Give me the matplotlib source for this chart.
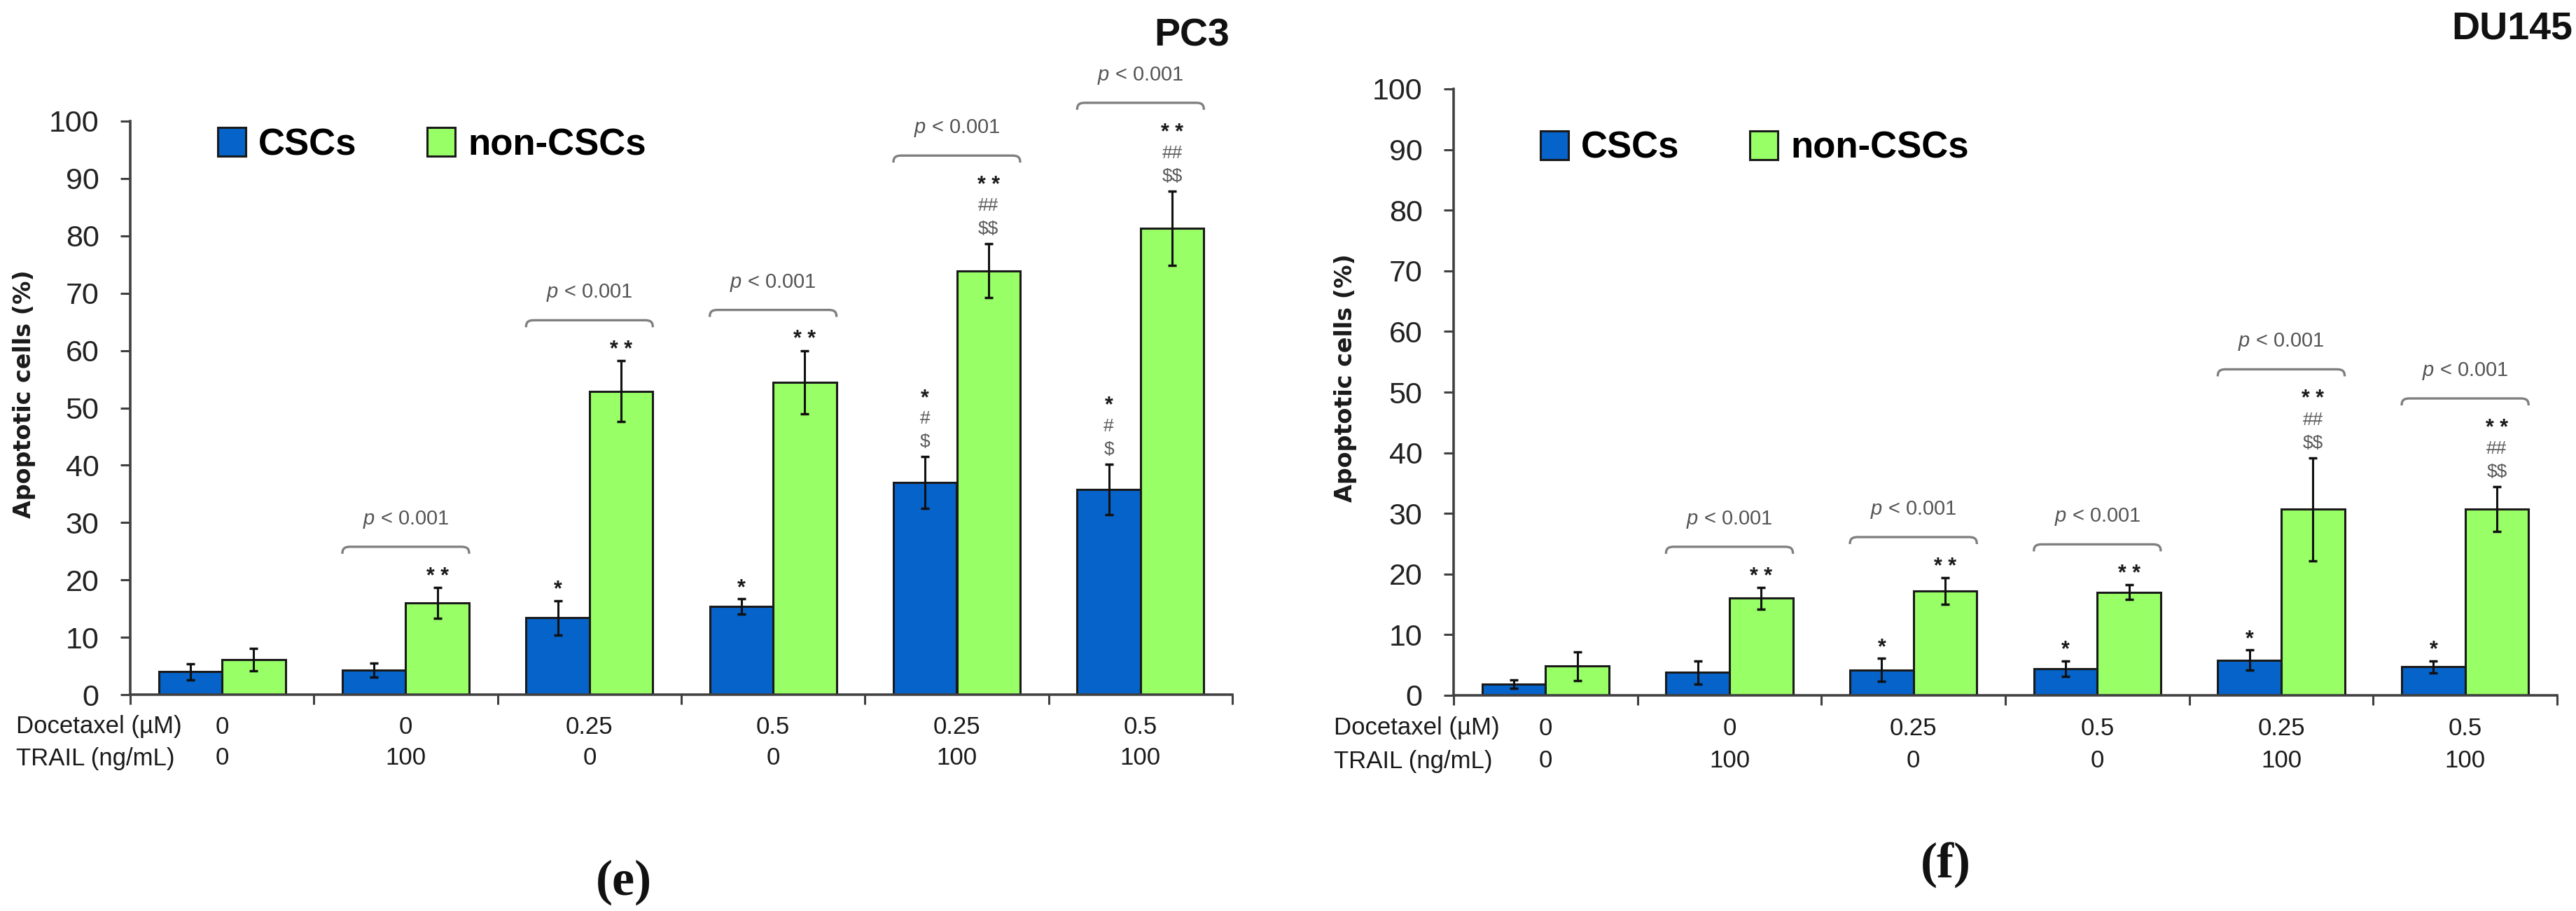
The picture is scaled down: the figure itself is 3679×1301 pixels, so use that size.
import matplotlib
matplotlib.use('Agg')
import matplotlib.pyplot as plt
from matplotlib.path import Path
from matplotlib.patches import PathPatch
import numpy as np

plt.rcParams['font.family'] = ['Liberation Sans', 'DejaVu Sans']
plt.rcParams['mathtext.fontset'] = 'custom'
plt.rcParams['mathtext.rm'] = 'Liberation Sans'
plt.rcParams['mathtext.it'] = 'Liberation Sans:italic'

W, H = 3679, 1301

# ---------------- data ----------------
docetaxel = ['0', '0', '0.25', '0.5', '0.25', '0.5']
trail = ['0', '100', '0', '0', '100', '100']
series_names = ['CSCs', 'non-CSCs']

pc3_csc = [4.0, 4.3, 13.4, 15.4, 37.0, 35.8]
pc3_csc_err = [1.4, 1.2, 3.0, 1.3, 4.5, 4.4]
pc3_non = [6.1, 16.0, 52.9, 54.5, 73.9, 81.3]
pc3_non_err = [2.0, 2.7, 5.3, 5.5, 4.7, 6.5]

du_csc = [1.8, 3.8, 4.2, 4.4, 5.8, 4.7]
du_csc_err = [0.7, 1.9, 1.9, 1.3, 1.7, 1.0]
du_non = [4.8, 16.0, 17.2, 17.0, 30.7, 30.7]
du_non_err = [2.4, 1.8, 2.2, 1.2, 8.5, 3.7]

# significance marks, listed bottom-up
pc3_csc_marks = [[], [], ['*'], ['*'], ['$', '#', '*'], ['$', '#', '*']]
pc3_non_marks = [[], ['**'], ['**'], ['**'], ['$$', '##', '**'], ['$$', '##', '**']]
du_csc_marks = [[], [], ['*'], ['*'], ['*'], ['*']]
du_non_marks = [[], ['**'], ['**'], ['**'], ['$$', '##', '**'], ['$$', '##', '**']]
p_groups = [1, 2, 3, 4, 5]
p_text = r'$p$ < 0.001'
yticks = list(range(0, 101, 10))

BLUE = '#0563C9'
GREEN = '#99FF66'
EDGE = '#1a1a1a'
SPINE = '#404040'
TXT = '#1a1a1a'
GRAY = '#7f7f7f'

fig = plt.figure(figsize=(W / 100, H / 100), dpi=100)
PX = 100.0 / 72.0  # px per point


def px2pt(px):
    return px / PX


def make_panel(rect, csc, csc_err, non, non_err, csc_marks, non_marks, title, title_xy,
               letter, letter_xy, rowlab_x, row_y, ylab_x, legend_xy):
    ax = fig.add_axes([rect[0] / W, 1 - rect[3] / H, (rect[2] - rect[0]) / W, (rect[3] - rect[1]) / H])
    ax_h_px = rect[3] - rect[1]
    ppu = ax_h_px / 100.0
    x = np.arange(len(csc))
    bw = 0.345
    xc = x + 0.5 - bw / 2
    xn = x + 0.5 + bw / 2
    ax.bar(xc, csc, bw, color=BLUE, edgecolor=EDGE, linewidth=2.2, zorder=2, label=series_names[0])
    ax.bar(xn, non, bw, color=GREEN, edgecolor=EDGE, linewidth=2.2, zorder=2, label=series_names[1])
    ax.errorbar(xc, csc, yerr=csc_err, fmt='none', ecolor='#111111', elinewidth=2.2,
                capsize=4.5, capthick=2.5, zorder=3)
    ax.errorbar(xn, non, yerr=non_err, fmt='none', ecolor='#111111', elinewidth=2.2,
                capsize=4.5, capthick=2.5, zorder=3)
    ax.set_xlim(0, len(csc))
    ax.set_ylim(0, 100)
    ax.set_xticks(np.arange(len(csc) + 1))
    ax.set_xticklabels([])
    ax.set_yticks(yticks)
    ax.set_yticklabels([str(v) for v in yticks], fontsize=31, color='#222222')
    ax.tick_params(axis='y', length=10, width=2.2, color=SPINE, pad=22, direction='out')
    ax.tick_params(axis='x', length=10, width=2.2, color=SPINE, direction='out')
    for s in ['top', 'right']:
        ax.spines[s].set_visible(False)
    for s in ['left', 'bottom']:
        ax.spines[s].set_color(SPINE)
        ax.spines[s].set_linewidth(2.6)
        ax.spines[s].set_zorder(4)

    # significance marks (stacked boxes, no overlap)
    top_mark = {}
    for vals, errs, xs, marks in [(csc, csc_err, xc, csc_marks), (non, non_err, xn, non_marks)]:
        for i in range(len(vals)):
            top_px = (vals[i] + errs[i]) * ppu
            prev_top = -1e9
            for k, m in enumerate(marks[i]):
                if '*' in m:
                    fs, col, wt = 22, '#1a1a1a', 'bold'
                    txt = '* *' if len(m) == 2 else m
                    off = 0.78
                else:
                    fs, col, wt = 19, '#5a5a5a', 'normal'
                    txt = m
                    off = 0.57
                em = fs * PX
                box_h = 0.94 * em
                desired_center = top_px + 24 + 33 * k
                bottom = max(desired_center - off * em, prev_top + 1.5)
                prev_top = bottom + box_h
                center = bottom + off * em
                top_mark[i] = max(top_mark.get(i, 0), center / ppu)
                ax.text(xs[i], bottom / ppu, txt, ha='center', va='bottom', fontsize=fs,
                        color=col, weight=wt, parse_math=False, clip_on=False)

    # p-value brackets
    for i in p_groups:
        yb = top_mark[i] + 34 / ppu
        d = 10 / ppu
        x0, x1 = i + 0.155, i + 0.845
        w = 0.045
        verts = [(x0, yb - d), (x0, yb - d * 0.2), (x0 + w * 0.3, yb), (x0 + w, yb),
                 (x1 - w, yb), (x1 - w * 0.3, yb), (x1, yb - d * 0.2), (x1, yb - d)]
        codes = [Path.MOVETO, Path.CURVE4, Path.CURVE4, Path.CURVE4,
                 Path.LINETO, Path.CURVE4, Path.CURVE4, Path.CURVE4]
        ax.add_patch(PathPatch(Path(verts, codes), facecolor='none', edgecolor=GRAY,
                               linewidth=2.4, clip_on=False))
        ax.text(i + 0.5, yb + 39 / ppu, p_text, ha='center', va='center', fontsize=21,
                color='#555555', clip_on=False)

    # category rows
    axis_y = rect[3]
    for r, (lab, vals) in enumerate([('Docetaxel (µM)', docetaxel), ('TRAIL (ng/mL)', trail)]):
        fig.text(rowlab_x / W, 1 - row_y[r] / H, lab, ha='left', va='center', fontsize=25, color=TXT)
        for i, v in enumerate(vals):
            ax.annotate(v, xy=(i + 0.5, 0), xycoords=('data', 'axes fraction'),
                        xytext=(0, -px2pt(row_y[r] - axis_y)), textcoords='offset points',
                        ha='center', va='center', fontsize=25, color=TXT, annotation_clip=False)

    # y label
    fig.text(ylab_x / W, 1 - ((rect[1] + rect[3]) / 2 - 20) / H, 'Apoptotic cells (%)', rotation=90,
             ha='center', va='center', fontsize=24, weight='bold', color=TXT,
             family=['DejaVu Sans'])

    # legend
    ax.legend(loc='center left', bbox_to_anchor=(legend_xy[0] / W, 1 - legend_xy[1] / H),
              bbox_transform=fig.transFigure, ncol=2, frameon=False,
              prop={'weight': 'bold', 'size': 38}, handlelength=0.76, handleheight=0.81,
              handletextpad=0.34, columnspacing=1.9, borderpad=0, borderaxespad=0)

    fig.text(title_xy[0] / W, 1 - title_xy[1] / H, title, ha='right', va='center', fontsize=40,
             weight='bold', color='#111111')
    fig.text(letter_xy[0] / W, 1 - letter_xy[1] / H, letter, ha='center', va='center', fontsize=52,
             weight='bold', family=['Liberation Serif', 'DejaVu Serif'], color='#111111')
    return ax


make_panel((186, 173, 1760, 992), pc3_csc, pc3_csc_err, pc3_non, pc3_non_err,
           pc3_csc_marks, pc3_non_marks,
           'PC3', (1756, 51), '(e)', (891, 1260), 23, (1038, 1083), 35, (311, 207))
make_panel((2076, 127, 3652, 993), du_csc, du_csc_err, du_non, du_non_err,
           du_csc_marks, du_non_marks,
           'DU145', (3674, 41), '(f)', (2779, 1235), 1905, (1040, 1087), 1922, (2200, 212))

fig.savefig('out.png', dpi=100, facecolor='white')
